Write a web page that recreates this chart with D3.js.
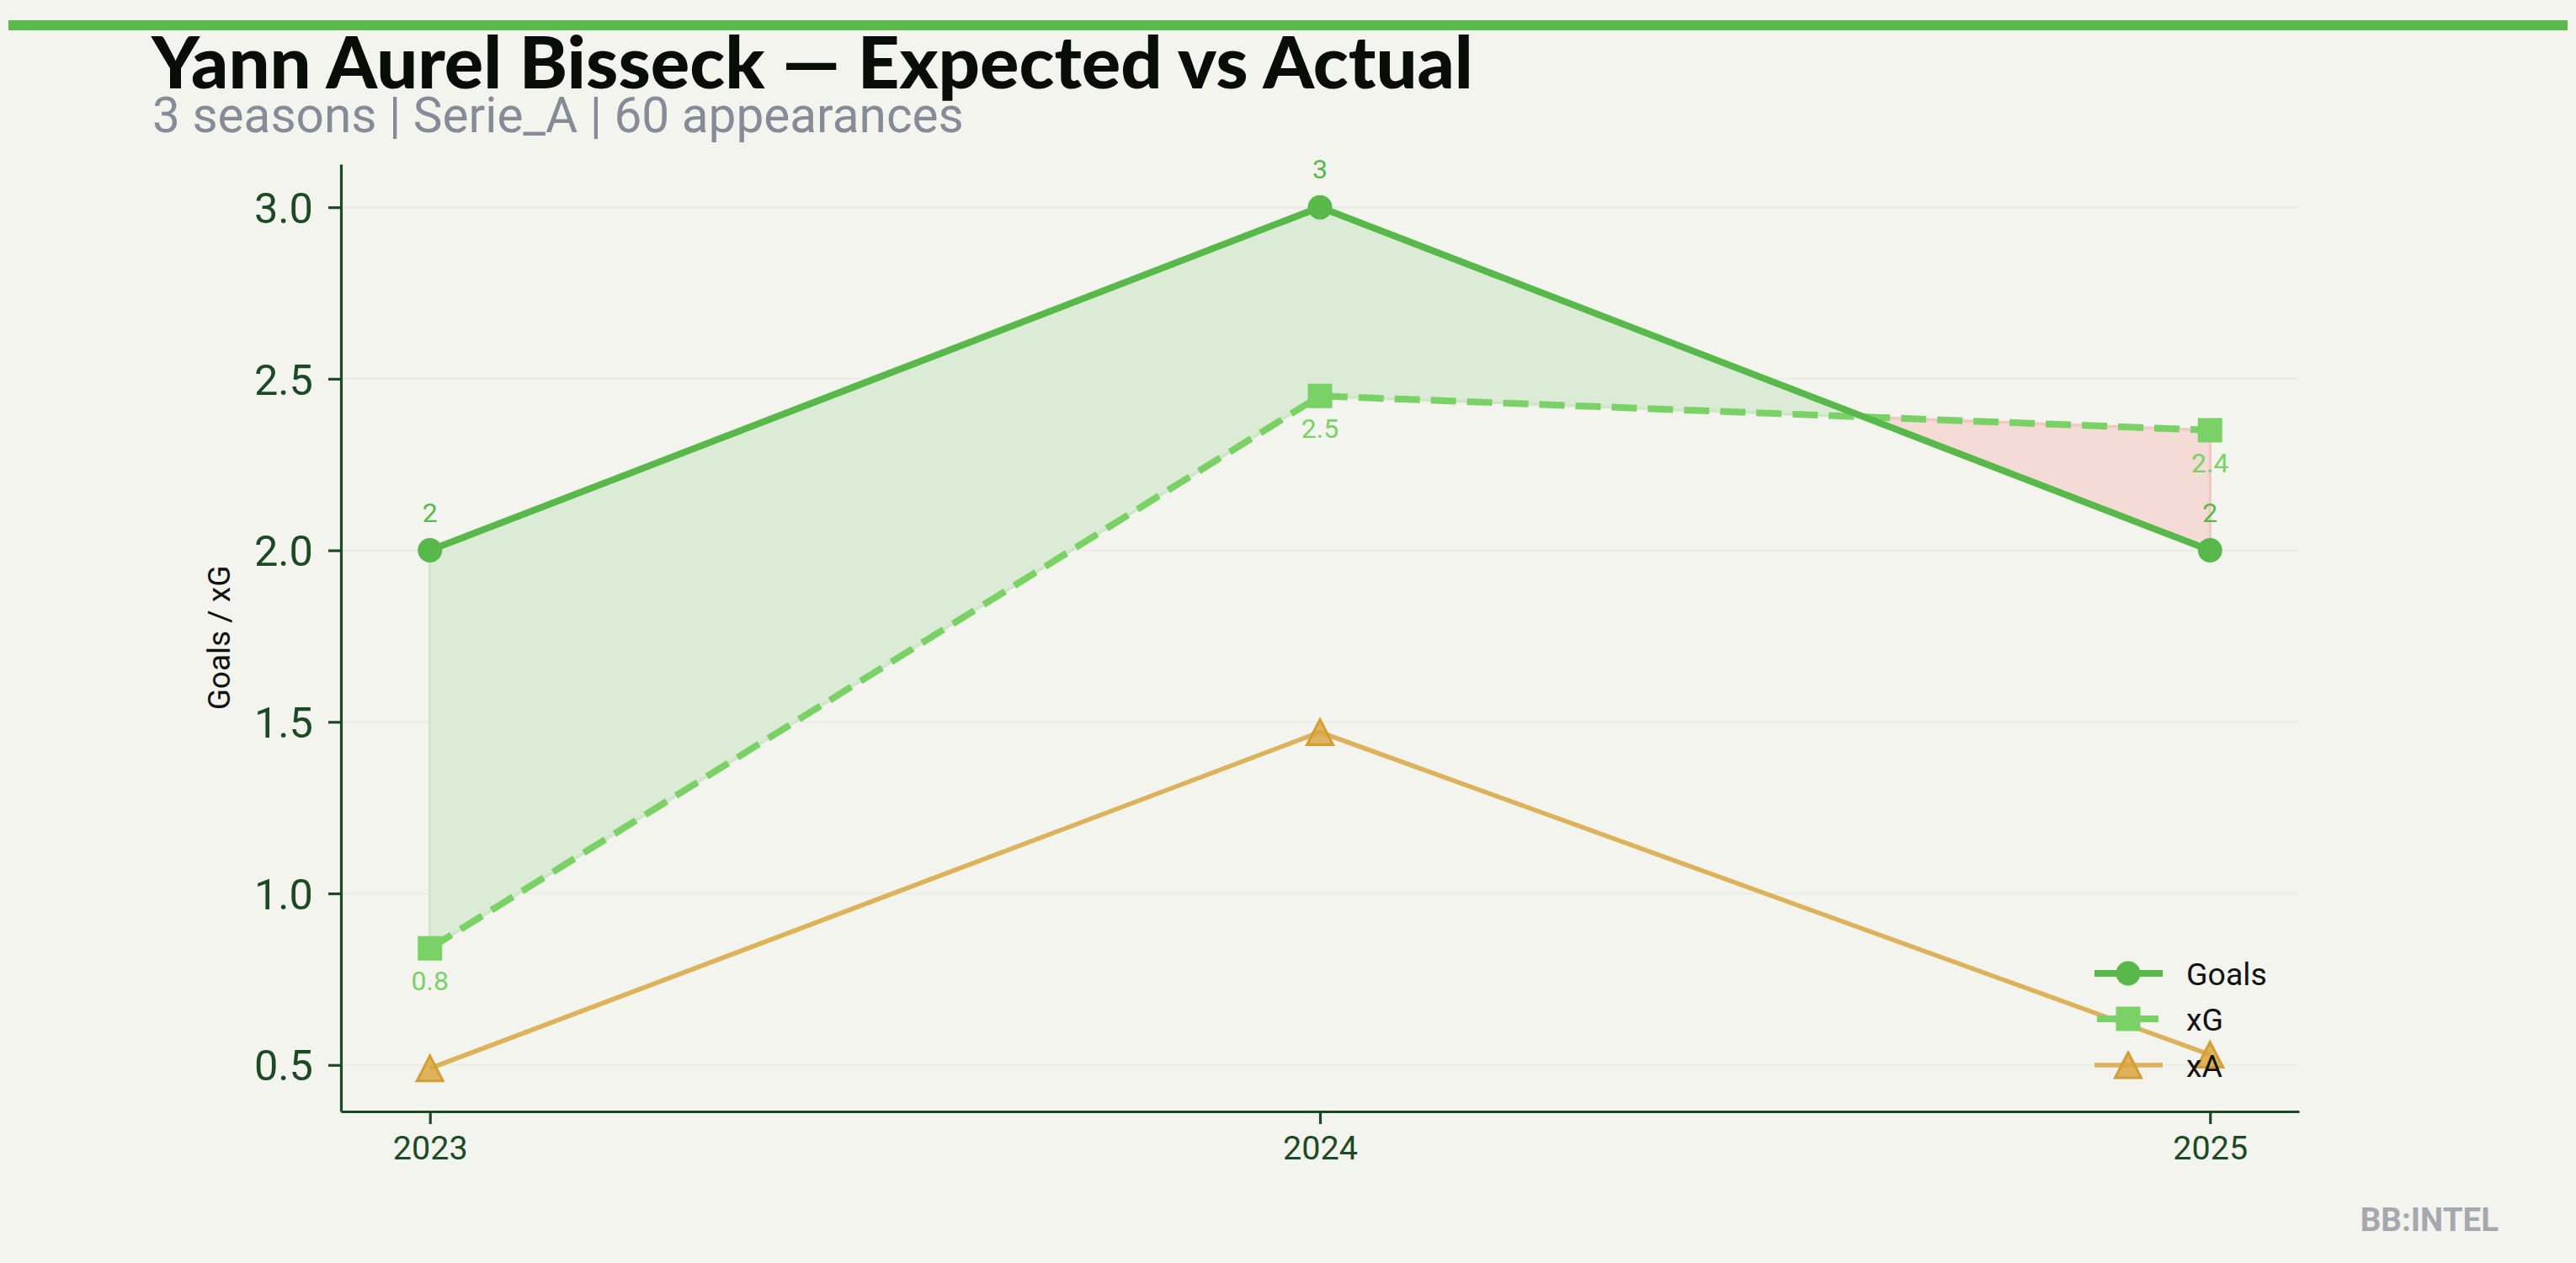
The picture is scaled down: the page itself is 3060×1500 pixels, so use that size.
<!DOCTYPE html>
<html><head><meta charset="utf-8">
<script src="https://cdn.jsdelivr.net/npm/d3@7"></script>
<style>
html,body{margin:0;padding:0;background:#f3f4ee;}
svg{display:block;}
</style></head><body>
<svg id="chart" width="3060" height="1500"></svg>
<script>
// ---------- data ----------
const seasons = [2023, 2024, 2025];
const goals = [2, 3, 2];
const xG = [0.84, 2.45, 2.35];
const xA = [0.49, 1.47, 0.53];
const yTicks = [0.5, 1.0, 1.5, 2.0, 2.5, 3.0];
const titleText = "Yann Aurel Bisseck — Expected vs Actual";
const subtitleText = "3 seasons | Serie_A | 60 appearances";
const yAxisTitle = "Goals / xG";
const legendNames = ["Goals", "xG", "xA"];
const watermark = "BB:INTEL";

// ---------- style ----------
const BG = "#f3f4ee";
const C_GOALS = "#58b84a", C_XG = "#7ad166", C_XA = "#dcb25a";
const C_AXIS = "#1c4a24";
const W = 3060, H = 1500;
const M = {left: 405, right: 2731, top: 195, bottom: 1320};
const LW_GOALS = 8, LW_XG = 8, LW_XA = 5.5, DASH = "30,13";

const svg = d3.select("#chart");
svg.append("rect").attr("width", W).attr("height", H).attr("fill", BG);
svg.append("rect").attr("x", 10).attr("y", 24).attr("width", 3040).attr("height", 12).attr("fill", "#5cb94b");

// ---------- scales ----------
const xPad = (d3.max(seasons) - d3.min(seasons)) * 0.05;
const x = d3.scaleLinear().domain([d3.min(seasons) - xPad, d3.max(seasons) + xPad]).range([M.left, M.right]);
const allY = goals.concat(xG, xA);
const yMin = d3.min(allY), yMax = d3.max(allY), yPad = (yMax - yMin) * 0.05;
const y = d3.scaleLinear().domain([yMin - yPad, yMax + yPad]).range([M.bottom, M.top]);

// ---------- grid ----------
svg.append("g").selectAll("line").data(yTicks).join("line")
  .attr("x1", M.left).attr("x2", M.right)
  .attr("y1", d => y(d)).attr("y2", d => y(d))
  .attr("stroke", "#ecede6").attr("stroke-width", 2.5);

// ---------- fill between goals and xG ----------
function regions(xs, a, b) {
  const out = []; let poly = null;
  for (let i = 0; i < xs.length; i++) {
    const s = a[i] >= b[i];
    if (!poly) poly = {pos: s, top: [[xs[i], a[i]]], bot: [[xs[i], b[i]]]};
    else if (s === poly.pos) { poly.top.push([xs[i], a[i]]); poly.bot.push([xs[i], b[i]]); }
    else {
      const d0 = a[i-1] - b[i-1], d1 = a[i] - b[i], t = d0 / (d0 - d1);
      const cx = xs[i-1] + t * (xs[i] - xs[i-1]), cy = a[i-1] + t * (a[i] - a[i-1]);
      poly.top.push([cx, cy]); poly.bot.push([cx, cy]); out.push(poly);
      poly = {pos: s, top: [[cx, cy], [xs[i], a[i]]], bot: [[cx, cy], [xs[i], b[i]]]};
    }
  }
  out.push(poly); return out;
}
const polyLine = d3.line().x(d => x(d[0])).y(d => y(d[1]));
svg.append("g").selectAll("path").data(regions(seasons, goals, xG)).join("path")
  .attr("d", p => polyLine(p.top.concat(p.bot.slice().reverse())) + "Z")
  .attr("fill", p => p.pos ? "#dcebd6" : "#f5dbd6")
  .attr("stroke", p => p.pos ? "#d0e6ca" : "#f0c9c2")
  .attr("stroke-width", 3.5).attr("stroke-linejoin", "round");

// ---------- axes ----------
const yAxis = d3.axisLeft(y).tickValues(yTicks).tickFormat(d3.format(".1f")).tickSize(15).tickSizeOuter(0).tickPadding(18);
const gy = svg.append("g").attr("transform", `translate(${M.left},0)`).call(yAxis);
gy.selectAll("text").attr("font-family", "Roboto").attr("font-size", 50.5).attr("fill", C_AXIS).attr("dy", "0.36em");
const xAxis = d3.axisBottom(x).tickValues(seasons).tickFormat(d3.format("d")).tickSize(15).tickSizeOuter(0).tickPadding(14);
const gx = svg.append("g").attr("transform", `translate(0,${M.bottom})`).call(xAxis);
gx.selectAll("text").attr("font-family", "Roboto").attr("font-size", 39.5).attr("fill", C_AXIS);
[gx, gy].forEach(g => {
  g.select(".domain").attr("stroke", C_AXIS).attr("stroke-width", 3.2);
  g.selectAll(".tick line").attr("stroke", C_AXIS).attr("stroke-width", 3.2);
});

svg.append("text").attr("transform", `translate(273,${(M.top + M.bottom) / 2}) rotate(-90)`)
  .attr("text-anchor", "middle").attr("font-family", "Roboto").attr("font-size", 37).attr("fill", "#111")
  .text(yAxisTitle);

// ---------- lines ----------
const line = d3.line().x((d, i) => x(seasons[i])).y(d => y(d));
svg.append("path").datum(xA).attr("d", line).attr("fill", "none").attr("stroke", C_XA).attr("stroke-width", LW_XA);
svg.append("path").datum(xG).attr("d", line).attr("fill", "none").attr("stroke", C_XG).attr("stroke-width", LW_XG).attr("stroke-dasharray", DASH);
svg.append("path").datum(goals).attr("d", line).attr("fill", "none").attr("stroke", C_GOALS).attr("stroke-width", LW_GOALS);

// markers
const triPath = "M0,-15L15.5,15L-15.5,15Z";
function triangle(g, cx, cy) {
  g.append("path").attr("d", triPath).attr("transform", `translate(${cx},${cy})`)
    .attr("fill", "#d9a744").attr("fill-opacity", 0.85).attr("stroke", "#d49d34").attr("stroke-width", 3);
}
const mk = svg.append("g");
xA.forEach((v, i) => triangle(mk, x(seasons[i]), y(v)));
mk.selectAll("rect.sq").data(xG).join("rect").attr("class", "sq")
  .attr("x", (d, i) => x(seasons[i]) - 14.5).attr("y", d => y(d) - 14.5)
  .attr("width", 29).attr("height", 29).attr("fill", C_XG);
mk.selectAll("circle").data(goals).join("circle")
  .attr("cx", (d, i) => x(seasons[i])).attr("cy", d => y(d)).attr("r", 14.5).attr("fill", C_GOALS);

// value labels
svg.append("g").selectAll("text").data(goals).join("text")
  .attr("x", (d, i) => x(seasons[i])).attr("y", d => y(d) - 34)
  .attr("text-anchor", "middle").attr("font-family", "Roboto").attr("font-size", 32).attr("fill", C_GOALS)
  .text(d3.format("d"));
svg.append("g").selectAll("text").data(xG).join("text")
  .attr("x", (d, i) => x(seasons[i])).attr("y", d => y(d) + 50)
  .attr("text-anchor", "middle").attr("font-family", "Roboto").attr("font-size", 32).attr("fill", C_XG)
  .text(d3.format(".1f"));

// ---------- legend ----------
const lg = svg.append("g");
const rowsY = [1156, 1210, 1265];
const lx0 = 2488, lx1 = 2569, lmx = 2528;
lg.append("line").attr("x1", lx0).attr("x2", lx1).attr("y1", rowsY[0]).attr("y2", rowsY[0]).attr("stroke", C_GOALS).attr("stroke-width", LW_GOALS);
lg.append("circle").attr("cx", lmx).attr("cy", rowsY[0]).attr("r", 14.5).attr("fill", C_GOALS);
lg.append("line").attr("x1", lx0 + 3).attr("x2", lx1 - 3).attr("y1", rowsY[1]).attr("y2", rowsY[1]).attr("stroke", C_XG).attr("stroke-width", LW_XG).attr("stroke-dasharray", DASH);
lg.append("rect").attr("x", lmx - 14.5).attr("y", rowsY[1] - 14.5).attr("width", 29).attr("height", 29).attr("fill", C_XG);
lg.append("line").attr("x1", lx0).attr("x2", lx1).attr("y1", rowsY[2]).attr("y2", rowsY[2]).attr("stroke", C_XA).attr("stroke-width", LW_XA);
triangle(lg, lmx, rowsY[2]);
lg.selectAll("text").data(legendNames).join("text")
  .attr("x", 2597).attr("y", (d, i) => rowsY[i] + 13.5)
  .attr("font-family", "Roboto").attr("font-size", 37.5).attr("fill", "#111").text(d => d);

// ---------- titles ----------
const t = svg.append("text").attr("x", 180).attr("y", 105)
  .attr("font-family", "Lato, 'Open Sans', sans-serif").attr("font-weight", 900).attr("font-size", 80)
  .attr("fill", "#0a0c0a").text(titleText);
const tw = t.node().getComputedTextLength();
if (tw > 0) t.attr("font-size", 80 * 1570 / tw);

const st = svg.append("text").attr("x", 181).attr("y", 157)
  .attr("font-family", "Roboto").attr("font-size", 53.5).attr("fill", "#868c97").text(subtitleText);
const sw = st.node().getComputedTextLength();
if (sw > 0) st.attr("font-size", 53.5 * 964 / sw);

svg.append("text").attr("x", 2968).attr("y", 1462).attr("text-anchor", "end")
  .attr("font-family", "Roboto").attr("font-weight", 700).attr("font-size", 38.5)
  .attr("fill", "#a5a8ae").text(watermark);
</script>
</body></html>
